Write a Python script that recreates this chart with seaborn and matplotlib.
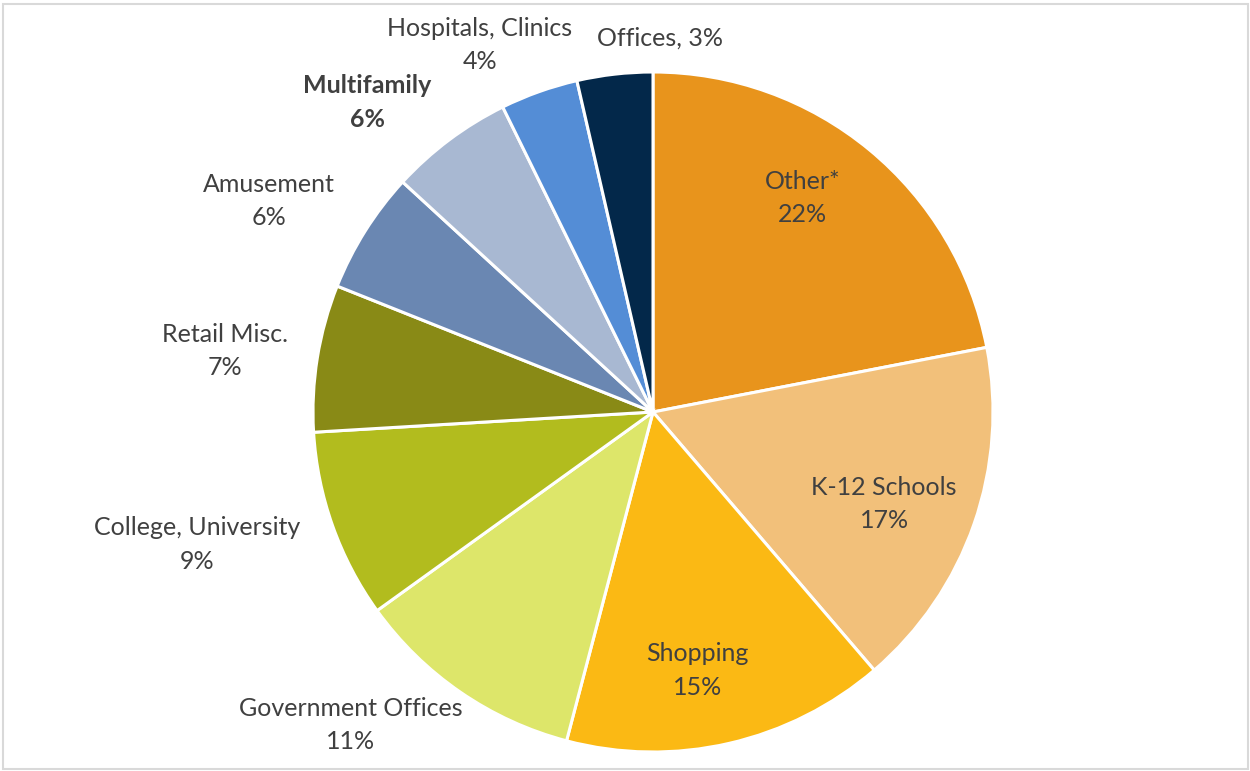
import matplotlib
matplotlib.use("Agg")
import matplotlib.pyplot as plt
import seaborn as sns
from matplotlib.patches import Rectangle

categories = ["Other*", "K-12 Schools", "Shopping", "Government Offices",
              "College, University", "Retail Misc.", "Amusement", "Multifamily",
              "Hospitals, Clinics", "Offices"]
shares = [22.0, 16.8, 15.4, 11.0, 9.0, 7.0, 5.8, 5.9, 3.7, 3.6]
pct_labels = ["22%", "17%", "15%", "11%", "9%", "7%", "6%", "6%", "4%", "3%"]
colors = ["#E8941C", "#F2C07A", "#FBB914", "#DDE66A", "#B2BC1E",
          "#898A16", "#6A87B2", "#A8B8D2", "#548DD6", "#03284A"]

# label anchor points, in pie-radius units
label_pos = [(0.44, 0.63), (0.68, -0.27), (0.13, -0.76), (-0.89, -0.92),
             (-1.34, -0.39), (-1.26, 0.18), (-1.13, 0.62), (-0.84, 0.91),
             (-0.51, 1.08), (0.02, 1.10)]

sns.set_theme(style="white")
plt.rcParams["font.family"] = ["Lato", "DejaVu Sans"]

fig = plt.figure(figsize=(12.5, 7.71), dpi=100)
ax = fig.add_axes([0, 0, 1, 1])
palette = sns.color_palette(colors)
ax.pie(shares, colors=palette, startangle=90, counterclock=False, radius=1,
       wedgeprops=dict(edgecolor="white", linewidth=2.2))

for cat, pct, (x, y) in zip(categories, pct_labels, label_pos):
    weight = "bold" if cat == "Multifamily" else "normal"
    txt = f"{cat}, {pct}" if cat == "Offices" else f"{cat}\n{pct}"
    ax.text(x, y, txt, ha="center", va="center", fontsize=18, color="#404040",
            fontweight=weight, linespacing=1.55)

cx, cy, r = 653, 412, 340
ax.set_aspect("auto")
ax.set_xlim(-cx / r, (1250 - cx) / r)
ax.set_ylim(-(771 - cy) / r, cy / r)
ax.axis("off")

fig.patches.append(Rectangle((0.002, 0.003), 0.996, 0.992, transform=fig.transFigure,
                             fill=False, edgecolor="#D9D9D9", linewidth=1.5))

fig.savefig("out.png", dpi=100)
